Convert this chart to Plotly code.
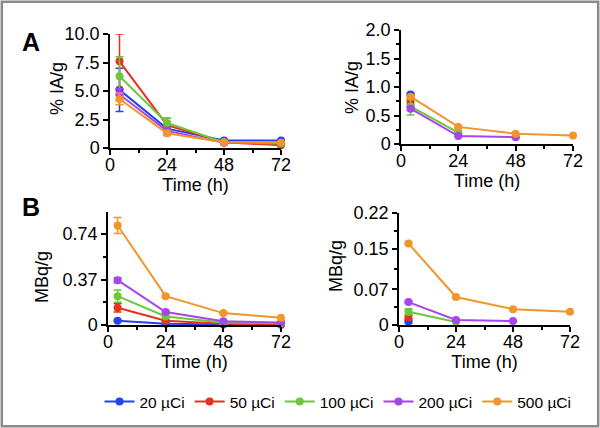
import plotly.graph_objects as go

# ---------------- data ----------------
doses = ["20 µCi", "50 µCi", "100 µCi", "200 µCi", "500 µCi"]
colors = ["#2443f0", "#e8301e", "#6cc83a", "#a645ec", "#f0962a"]
times = [4, 24, 48, 72]

# Panel A left: % IA/g
a1_vals = {
    "20 µCi": [5.1, 1.7, 0.65, 0.65],
    "50 µCi": [7.6, 2.0, 0.5, 0.25],
    "100 µCi": [6.3, 2.2, 0.5, 0.4],
    "200 µCi": [4.7, 1.5, 0.45, 0.45],
    "500 µCi": [4.3, 1.3, 0.5, 0.45],
}
a1_err = {
    "20 µCi": [1.9, 0.3, 0.1, 0.1],
    "50 µCi": [2.4, 0.6, 0.1, 0.05],
    "100 µCi": [1.7, 0.4, 0.1, 0.05],
    "200 µCi": [0.5, 0.3, 0.1, 0.05],
    "500 µCi": [0.5, 0.2, 0.05, 0.05],
}
# Panel A right: % IA/g
a2_vals = {
    "20 µCi": [0.87, None, None, None],
    "50 µCi": [0.73, None, None, None],
    "100 µCi": [0.66, 0.20, None, None],
    "200 µCi": [0.62, 0.14, 0.12, None],
    "500 µCi": [0.83, 0.30, 0.18, 0.15],
}
a2_err = {
    "20 µCi": [0.02, 0, 0, 0],
    "50 µCi": [0.05, 0, 0, 0],
    "100 µCi": [0.15, 0.02, 0, 0],
    "200 µCi": [0.03, 0.01, 0.01, 0],
    "500 µCi": [0.02, 0.02, 0.01, 0.01],
}
# Panel B left: MBq/g
b1_vals = {
    "20 µCi": [0.035, 0.010, 0.005, 0.003],
    "50 µCi": [0.14, 0.035, 0.010, 0.006],
    "100 µCi": [0.235, 0.07, 0.02, 0.015],
    "200 µCi": [0.365, 0.105, 0.03, 0.02],
    "500 µCi": [0.81, 0.235, 0.097, 0.06],
}
b1_err = {
    "20 µCi": [0.005, 0.002, 0.001, 0.001],
    "50 µCi": [0.035, 0.005, 0.002, 0.001],
    "100 µCi": [0.05, 0.01, 0.004, 0.002],
    "200 µCi": [0.02, 0.01, 0.005, 0.003],
    "500 µCi": [0.065, 0.01, 0.01, 0.006],
}
# Panel B right: MBq/g
b2_vals = {
    "20 µCi": [0.007, None, None, None],
    "50 µCi": [0.015, None, None, None],
    "100 µCi": [0.026, 0.006, None, None],
    "200 µCi": [0.045, 0.010, 0.008, None],
    "500 µCi": [0.160, 0.055, 0.031, 0.026],
}
b2_err = {
    "20 µCi": [0.003, 0, 0, 0],
    "50 µCi": [0.004, 0, 0, 0],
    "100 µCi": [0.006, 0.001, 0, 0],
    "200 µCi": [0.002, 0.001, 0.001, 0],
    "500 µCi": [0.002, 0.002, 0.001, 0.001],
}

x_ticks = [0, 24, 48, 72]
a1_ticks = [0, 2.5, 5.0, 7.5, 10.0]
a1_ticklabels = ["0", "2.5", "5.0", "7.5", "10.0"]
a2_ticks = [0, 0.5, 1.0, 1.5, 2.0]
a2_ticklabels = ["0", "0.5", "1.0", "1.5", "2.0"]
b1_ticks = [0, 0.37, 0.74]
b1_ticklabels = ["0", "0.37", "0.74"]
b2_ticks = [0, 0.07, 0.15, 0.22]
b2_ticklabels = ["0", "0.07", "0.15", "0.22"]

FONT = "Liberation Sans, Arial, sans-serif"
FS = 18

fig = go.Figure()

panels = [
    ("x", "y", a1_vals, a1_err, True),
    ("x2", "y2", a2_vals, a2_err, False),
    ("x3", "y3", b1_vals, b1_err, False),
    ("x4", "y4", b2_vals, b2_err, False),
]

for xa, ya, vals, errs, show in panels:
    for dose, col in zip(doses, colors):
        v = vals[dose]
        e = errs[dose]
        xs = [t for t, y in zip(times, v) if y is not None]
        ys = [y for y in v if y is not None]
        es = [er for er, y in zip(e, v) if y is not None]
        fig.add_trace(go.Scatter(
            x=xs, y=ys, mode="lines+markers", name=dose,
            legendgroup=dose, showlegend=show,
            xaxis=xa, yaxis=ya, cliponaxis=False,
            line=dict(color=col, width=2),
            marker=dict(color=col, size=8),
            error_y=dict(type="data", array=es, color=col, thickness=1.5, width=4),
        ))

axis_common = dict(
    showline=True, linecolor="black", linewidth=1.5, showgrid=False, zeroline=False,
    ticks="outside", ticklen=5, tickwidth=1.5, tickcolor="black", automargin=False,
    tickfont=dict(family=FONT, size=FS, color="black"),
)
minor_style = dict(ticks="outside", ticklen=3, tickwidth=1.5, tickcolor="black")
xaxis_common = dict(
    axis_common, range=[0, 72], tickvals=x_ticks, ticklabelstandoff=-5,
    minor=dict(minor_style, tickvals=[12, 36, 60]),
    title=dict(text="Time (h)", font=dict(family=FONT, size=FS, color="black"), standoff=2),
)
ytitle_font = dict(family=FONT, size=FS, color="black")


def ytitle(text, xpx, ypx):
    return dict(text=text, x=xpx/600, y=1-ypx/428, xref="paper", yref="paper",
                xanchor="center", yanchor="middle", textangle=-90, showarrow=False,
                font=ytitle_font)


fig.update_layout(
    width=600, height=428,
    margin=dict(l=0, r=0, t=0, b=0),
    paper_bgcolor="white", plot_bgcolor="white",
    font=dict(family=FONT, color="black"),
    xaxis=dict(xaxis_common, domain=[110/600, 281/600], anchor="y"),
    yaxis=dict(axis_common, domain=[1-148/428, 1-34/428], anchor="x", range=[0, 10],
               tickvals=a1_ticks, ticktext=a1_ticklabels),
    xaxis2=dict(xaxis_common, domain=[401/600, 573/600], anchor="y2"),
    yaxis2=dict(axis_common, domain=[1-144/428, 1-30/428], anchor="x2", range=[0, 2],
                tickvals=a2_ticks, ticktext=a2_ticklabels,
                minor=dict(minor_style, tickvals=[0.25, 0.75, 1.25, 1.75])),
    xaxis3=dict(xaxis_common, domain=[108/600, 281/600], anchor="y3"),
    yaxis3=dict(axis_common, domain=[1-325/428, 1-212/428], anchor="x3", range=[0, 0.92],
                tickvals=b1_ticks, ticktext=b1_ticklabels,
                minor=dict(minor_style, tickvals=[0.185, 0.555])),
    xaxis4=dict(xaxis_common, domain=[399/600, 570/600], anchor="y4"),
    yaxis4=dict(axis_common, domain=[1-325/428, 1-213/428], anchor="x4", range=[0, 0.22],
                tickvals=b2_ticks, ticktext=b2_ticklabels,
                minor=dict(minor_style, tickvals=[0.035, 0.11, 0.185])),
    legend=dict(orientation="h", x=338/600, xanchor="center", y=1-402/428, yanchor="middle",
                font=dict(family=FONT, size=15.5, color="black"),
                bgcolor="rgba(0,0,0,0)", tracegroupgap=0),
    annotations=[
        dict(text="<b>A</b>", x=20/600, y=1-42/428, xref="paper", yref="paper",
             xanchor="left", yanchor="middle", showarrow=False,
             font=dict(family=FONT, size=25, color="black")),
        dict(text="<b>B</b>", x=20/600, y=1-207/428, xref="paper", yref="paper",
             xanchor="left", yanchor="middle", showarrow=False,
             font=dict(family=FONT, size=25, color="black")),
        ytitle("% IA/g", 57, 89),
        ytitle("% IA/g", 352, 88),
        ytitle("MBq/g", 42, 277),
        ytitle("MBq/g", 336, 266),
    ],
    shapes=[
        dict(type="rect", xref="paper", yref="paper", x0=0.003, y0=0.004, x1=0.997, y1=0.996,
             line=dict(color="#8a8a8a", width=2.5)),
    ],
)

fig.write_html("out.html", config={"displayModeBar": False})

# remove default page margin so the figure sits at the window origin
with open("out.html", "r", encoding="utf-8") as f:
    html = f.read()
html = html.replace("<head>", "<head><style>html,body{margin:0;padding:0;overflow:hidden;}</style>", 1)
with open("out.html", "w", encoding="utf-8") as f:
    f.write(html)
